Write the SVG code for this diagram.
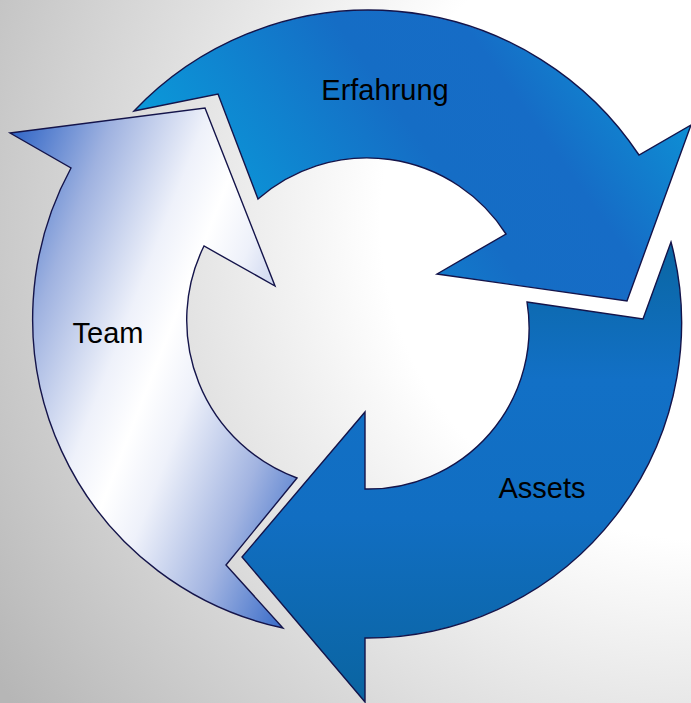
<svg xmlns="http://www.w3.org/2000/svg" width="691" height="703" viewBox="0 0 691 703">
<defs>
<radialGradient id="bg" gradientUnits="userSpaceOnUse" cx="700" cy="220" r="840">
<stop offset="0" stop-color="#ffffff"/>
<stop offset="0.38" stop-color="#ffffff"/>
<stop offset="1" stop-color="#b6b6b6"/>
</radialGradient>
<linearGradient id="gE" gradientUnits="userSpaceOnUse" x1="170" y1="250" x2="690" y2="-120">
<stop offset="0" stop-color="#08a4de"/>
<stop offset="0.42" stop-color="#156dc5"/>
<stop offset="0.58" stop-color="#166cc6"/>
<stop offset="0.85" stop-color="#0b9bd9"/>
<stop offset="1" stop-color="#00a6e2"/>
</linearGradient>
<linearGradient id="gA" gradientUnits="userSpaceOnUse" x1="0" y1="242" x2="0" y2="703">
<stop offset="0" stop-color="#0a66a2"/>
<stop offset="0.3" stop-color="#1270c6"/>
<stop offset="0.6" stop-color="#116ec2"/>
<stop offset="1" stop-color="#0a64a0"/>
</linearGradient>
<linearGradient id="gT" gradientUnits="userSpaceOnUse" x1="15" y1="132" x2="418" y2="289">
<stop offset="0" stop-color="#3468c7"/>
<stop offset="0.2" stop-color="#9fb2e0"/>
<stop offset="0.4" stop-color="#eef1fa"/>
<stop offset="0.5" stop-color="#ffffff"/>
<stop offset="0.6" stop-color="#eef1fa"/>
<stop offset="0.8" stop-color="#a2b4e1"/>
<stop offset="1" stop-color="#3468c7"/>
</linearGradient>
<style>
.arr{stroke:#14144a;stroke-width:1.4;stroke-linejoin:miter}
.lbl{font-family:"Liberation Sans",Arial,sans-serif;font-size:29px;fill:#000;text-anchor:middle}
</style>
</defs>
<rect x="0" y="0" width="691" height="703" fill="url(#bg)"/>
<g id="erfahrung">
<path class="arr" fill="url(#gE)" d="M134,111 L218,94 L258,199 A165,165 0 0 1 506,234 L437,274 L627,301 L691,125 L639,155 A324,324 0 0 0 134,111 Z"/>
<text class="lbl" x="385" y="100">Erfahrung</text>
</g>
<g id="assets">
<path class="arr" fill="url(#gA)" d="M527,302 L643,319 L671,242 A315,315 0 0 1 365,638 L365,702 L242,557 L365,412 L365,489 A161,161 0 0 0 527,302 Z"/>
<text class="lbl" x="542" y="498">Assets</text>
</g>
<g id="team">
<path class="arr" fill="url(#gT)" d="M10,133 L205,108 L275,286 L204,246 A168,168 0 0 0 297,478 L226,565 L283,628 A316,316 0 0 1 71,168 Z"/>
<text class="lbl" x="108" y="343">Team</text>
</g>
<g id="connectors"></g>
</svg>
